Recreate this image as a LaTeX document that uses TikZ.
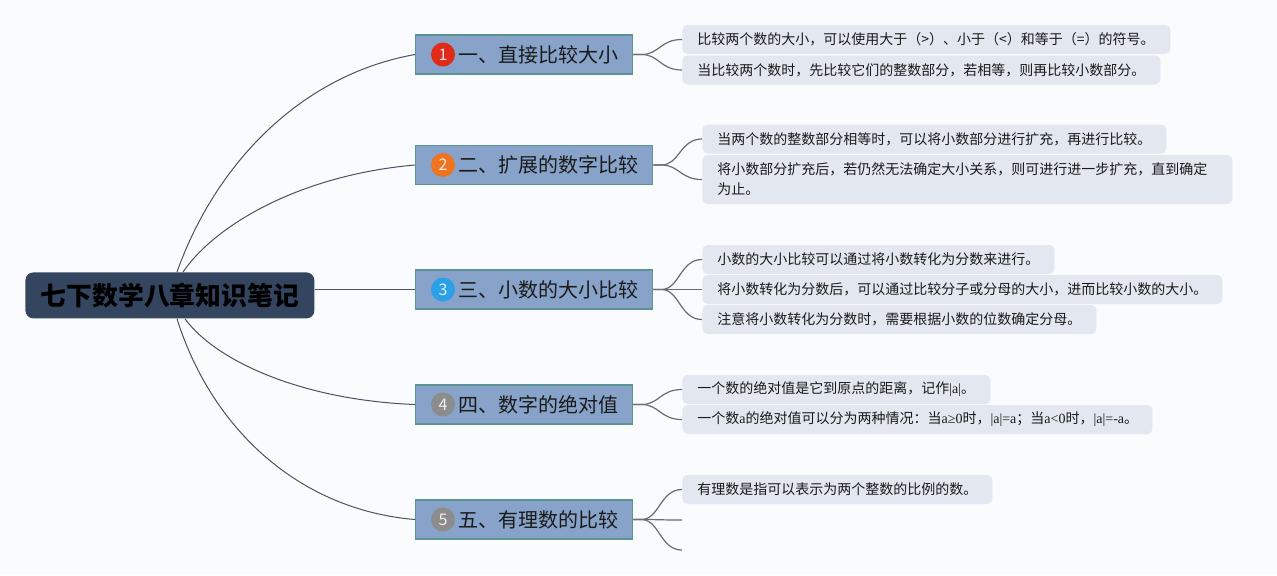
\documentclass[tikz,border=0pt]{standalone}
\usepackage{fontspec}
\setmainfont{Noto Sans CJK SC}
\newfontfamily\latf{Liberation Serif}
\definecolor{bgc}{HTML}{FAFBFC}
\definecolor{rootc}{HTML}{344560}
\definecolor{topicc}{HTML}{87A3C9}
\definecolor{topicb}{HTML}{5C9496}
\definecolor{leafc}{HTML}{E3E8F0}
\definecolor{linec}{HTML}{4B5263}
\definecolor{leaflinec}{HTML}{666C78}
\definecolor{txtc}{HTML}{1A1A1A}
\definecolor{b1}{HTML}{E02A1A}
\definecolor{b2}{HTML}{EE7420}
\definecolor{b3}{HTML}{2BA0E6}
\definecolor{b4}{HTML}{8C8C8C}
\begin{document}
\begin{tikzpicture}[x=0.5pt,y=-0.5pt,
  rootbox/.style={draw=none,fill=rootc,rounded corners=4pt,anchor=north west,
    minimum width=144.5pt,minimum height=23pt,inner sep=0pt,text=black,
    font={\fontsize{12.9pt}{15pt}\selectfont\bfseries}},
  topicbox/.style={draw=topicb,line width=0.7pt,fill=topicc,anchor=west,
    minimum height=19.5pt,inner xsep=0pt,inner ysep=0pt,align=left,text=txtc,
    font={\fontsize{10pt}{12pt}\selectfont}},
  badge/.style={circle,fill=#1,minimum size=12pt,inner sep=0pt,text=white!85!#1,
    font={\fontsize{8pt}{9pt}\selectfont}},
  leafbox/.style={fill=leafc,draw=none,rounded corners=2.5pt,anchor=west,
    minimum height=14.5pt,inner xsep=7.5pt,inner ysep=0pt,align=left,text=txtc,
    font={\fontsize{7pt}{10pt}\selectfont}},
  rootline/.style={draw=linec,line width=0.5pt},
  leafline/.style={draw=leaflinec,line width=0.6pt}
]
\fill[bgc] (0,0) rectangle (1277,575);
\useasboundingbox (0,0) rectangle (1277,575);

% root
\node[rootbox] (root) at (25,272) {七下数学八章知识笔记};

% topics
\node[topicbox,text width=108.5pt] (t1) at (415,54.5) {\hspace*{21.5pt}一、直接比较大小};
\node[topicbox,text width=118.5pt] (t2) at (415,165) {\hspace*{21.5pt}二、扩展的数字比较};
\node[topicbox,text width=118.5pt] (t3) at (415,289.5) {\hspace*{21.5pt}三、小数的大小比较};
\node[topicbox,text width=108.5pt] (t4) at (415,404.5) {\hspace*{21.5pt}四、数字的绝对值};
\node[topicbox,text width=108.5pt] (t5) at (415,519.5) {\hspace*{21.5pt}五、有理数的比较};

% badges
\node[badge=b1] (n1) at (443,54.5) {1};
\node[badge=b2] (n2) at (443,165) {2};
\node[badge=b3] (n3) at (443,289.5) {3};
\node[badge=b4] (n4) at (443,404.5) {4};
\node[badge=b4] (n5) at (443,519.5) {5};

% leaves
\node[leafbox,text width=229pt] (l11) at (682,39.5) {比较两个数的大小，可以使用大于（>）、小于（<）和等于（=）的符号。};
\node[leafbox,text width=224pt] (l12) at (682,70) {当比较两个数时，先比较它们的整数部分，若相等，则再比较小数部分。};
\node[leafbox,text width=217pt] (l21) at (702,139) {当两个数的整数部分相等时，可以将小数部分进行扩充，再进行比较。};
\node[leafbox,text width=250pt,minimum height=24.5pt] (l22) at (702,179.5) {将小数部分扩充后，若仍然无法确定大小关系，则可进行进一步扩充，直到确定\\为止。};
\node[leafbox,text width=161pt] (l31) at (702,259.5) {小数的大小比较可以通过将小数转化为分数来进行。};
\node[leafbox,text width=245pt] (l32) at (702,289.5) {将小数转化为分数后，可以通过比较分子或分母的大小，进而比较小数的大小。};
\node[leafbox,text width=182pt] (l33) at (702,319.5) {注意将小数转化为分数时，需要根据小数的位数确定分母。};
\node[leafbox,text width=139pt] (l41) at (682,389.5) {\mbox{一个数的绝对值是它到原点的距离，记作{\latf |a|}。}};
\node[leafbox,text width=220pt] (l42) at (682,419.5) {\mbox{一个数{\latf a}的绝对值可以分为两种情况：当{\latf a≥0}时，{\latf |a|=a}；当{\latf a<0}时，{\latf |a|=-a}。}};
\node[leafbox,text width=140pt] (l51) at (682,489.5) {有理数是指可以表示为两个整数的比例的数。};
\coordinate (e52) at (682,520);
\coordinate (e53) at (682,550);

% root connectors
\draw[rootline] ([xshift=76pt]root.north west) .. controls (215,165) and (300,75) .. (t1.west);
\draw[rootline] ([xshift=79pt]root.north west) .. controls (215,225) and (300,175) .. (t2.west);
\draw[rootline] (root.east |- t3.west) -- (t3.west);
\draw[rootline] ([xshift=80pt]root.south west) .. controls (215,360) and (300,400) .. (t4.west);
\draw[rootline] ([xshift=76pt]root.south west) .. controls (212,430) and (300,510) .. (t5.west);

% leaf connectors
\foreach \t/\l in {t1/l11,t1/l12,t2/l21,t2/l22,t3/l31,t3/l32,t3/l33,t4/l41,t4/l42,t5/l51}{
  \draw[leafline] (\t.east) -- ++(8,0) .. controls +(18,0) and +(-22,0) .. (\l.west);
}
\draw[leafline] (t5.east) -- ++(8,0) .. controls +(18,0) and +(-22,0) .. (e52);
\draw[leafline] (t5.east) -- ++(8,0) .. controls +(18,0) and +(-22,0) .. (e53);
\end{tikzpicture}
\end{document}
